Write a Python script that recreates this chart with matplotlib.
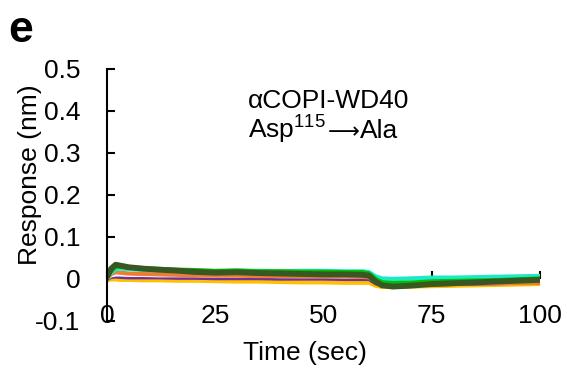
import matplotlib.pyplot as plt

plt.rcParams['font.family'] = ['Liberation Sans', 'DejaVu Sans']
plt.rcParams['mathtext.fontset'] = 'custom'
plt.rcParams['mathtext.rm'] = 'Liberation Sans'

# time points (sec)
t = [0, 1, 2, 3, 5, 8, 12, 16, 20, 25, 30, 35, 40, 45, 50, 55, 59, 60.5,
     62, 63.5, 66, 70, 75, 80, 85, 90, 95, 100]

# sensorgram traces (nm)
yellow = [-0.003, -0.001, -0.001, -0.002, -0.002, -0.003, -0.003, -0.004, -0.004, -0.005,
          -0.006, -0.006, -0.007, -0.008, -0.008, -0.009, -0.009, -0.009,
          -0.016, -0.019, -0.019, -0.018, -0.017, -0.016, -0.015, -0.014, -0.013, -0.012]
purple = [0.0, 0.005, 0.006, 0.005, 0.004, 0.004, 0.004, 0.003, 0.003, 0.002,
          0.002, 0.002, 0.001, 0.001, 0.001, 0.000, 0.000, 0.000,
          -0.010, -0.014, -0.015, -0.014, -0.013, -0.012, -0.011, -0.010, -0.009, -0.009]
white = [0.0, 0.008, 0.010, 0.010, 0.009, 0.009, 0.008, 0.008, 0.008, 0.007,
         0.007, 0.007, 0.006, 0.006, 0.006, 0.005, 0.005, 0.004,
         -0.008, -0.012, -0.013, -0.012, -0.011, -0.010, -0.009, -0.009, -0.008, -0.008]
orange = [0.0, 0.012, 0.016, 0.015, 0.013, 0.012, 0.011, 0.010, 0.009, 0.008,
          0.008, 0.007, 0.007, 0.006, 0.006, 0.006, 0.005, 0.004,
          -0.008, -0.012, -0.013, -0.012, -0.011, -0.011, -0.010, -0.010, -0.010, -0.009]
cyan = [0.003, 0.015, 0.024, 0.025, 0.024, 0.022, 0.021, 0.020, 0.019, 0.018,
        0.019, 0.019, 0.018, 0.019, 0.019, 0.018, 0.018, 0.016,
        0.006, 0.001, 0.000, 0.001, 0.003, 0.003, 0.004, 0.005, 0.006, 0.007]
green = [0.005, 0.020, 0.030, 0.030, 0.027, 0.026, 0.024, 0.022, 0.021, 0.019,
         0.020, 0.018, 0.018, 0.017, 0.017, 0.016, 0.016, 0.013,
         0.000, -0.008, -0.010, -0.009, -0.006, -0.005, -0.004, -0.003, -0.001, 0.001]
dkgreen = [0.005, 0.025, 0.034, 0.032, 0.028, 0.025, 0.022, 0.020, 0.017, 0.015,
           0.016, 0.014, 0.013, 0.012, 0.011, 0.011, 0.010, 0.008,
           -0.006, -0.015, -0.018, -0.016, -0.012, -0.010, -0.008, -0.006, -0.004, -0.002]

series = [(yellow, '#FFC000', 3), (purple, '#7030A0', 3), (white, '#FFFFFF', 2.5),
          (orange, '#ED7D31', 3), (cyan, '#1DE9C8', 3.2), (green, '#00C000', 3.2),
          (dkgreen, '#385723', 4.2)]

xticks = [0, 25, 50, 75, 100]
yticks = [-0.1, 0, 0.1, 0.2, 0.3, 0.4, 0.5]
ylabels = ['-0.1', '0', '0.1', '0.2', '0.3', '0.4', '0.5']

fig = plt.figure(figsize=(5.67, 3.78), dpi=100)
ax = fig.add_axes([0.1887, 0.1508, 0.7637, 0.6667])

# zero line
ax.axhline(0, color='black', lw=1.5, zorder=1)
for vals, col, lw in series:
    ax.plot(t, vals, color=col, lw=lw, zorder=2)

ax.set_xlim(0, 100)
ax.set_ylim(-0.1, 0.5)
for s in ['top', 'right', 'bottom']:
    ax.spines[s].set_visible(False)
ax.spines['left'].set_linewidth(1.5)

ax.set_yticks(yticks)
ax.set_yticklabels(ylabels)
ax.tick_params(axis='y', direction='in', length=6, width=1.5, pad=19, labelsize=19)
ax.set_xticks(xticks)
ax.tick_params(axis='x', length=0, pad=-12, labelsize=19)

# tick marks on the zero line
sec = ax.secondary_xaxis(1 / 6)
sec.set_xticks(xticks)
sec.tick_params(direction='in', length=6, width=1.5, labelbottom=False, labeltop=False)
sec.spines['bottom'].set_visible(False)
sec.spines['top'].set_visible(False)

ax.set_xlabel('Time (sec)', fontsize=19)
ax.xaxis.set_label_coords(0.457, -0.08)
ax.set_ylabel('Response (nm)', fontsize=19)
ax.yaxis.set_label_coords(-0.15, 0.579)

ax.text(32.6, 0.407, 'αCOPI-WD40', fontsize=19, va='baseline')
t1 = ax.text(32.6, 0.336, 'Asp$^{\\mathrm{115}}$', fontsize=19, va='baseline')
t2 = ax.annotate('⟶', xy=(1, 0.336), xycoords=(t1, 'data'), xytext=(1, 0),
                 textcoords='offset points', fontsize=16, va='baseline',
                 family='DejaVu Sans')
ax.annotate('Ala', xy=(1, 0.336), xycoords=(t2, 'data'), xytext=(0.5, 0),
            textcoords='offset points', fontsize=19, va='baseline')

fig.text(0.014, 0.889, 'e', fontsize=32, fontweight='bold', va='baseline')

fig.savefig('out.png', dpi=100)
